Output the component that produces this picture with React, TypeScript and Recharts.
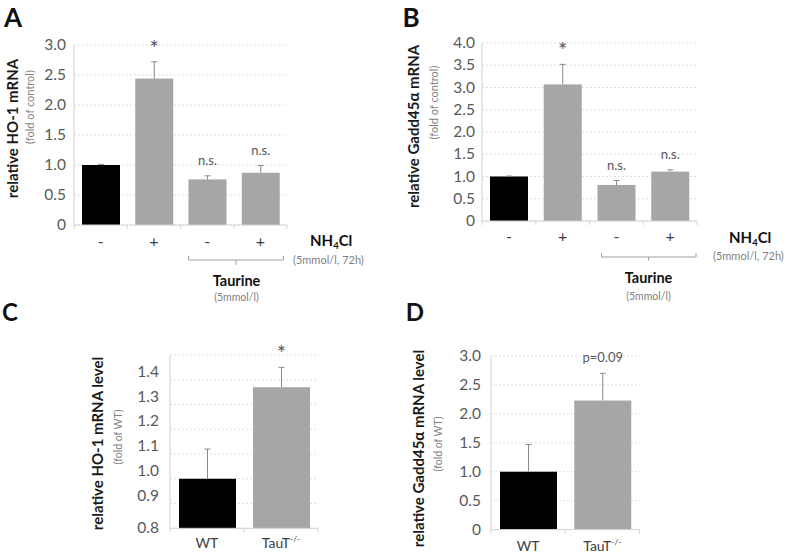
import { BarChart, Bar, XAxis, YAxis, CartesianGrid, Cell } from "recharts";

const FONT = "Lato, 'Open Sans', sans-serif";

// panel A: HO-1 mRNA, fold of control
const treatmentLabels = ["-", "+", "-", "+"];
const ho1Means = [1.0, 2.44, 0.76, 0.87];
const ho1Errors = [0.01, 0.28, 0.06, 0.12];
const ho1Marks = ["", "*", "n.s.", "n.s."];

// panel B: Gadd45a mRNA, fold of control
const gaddMeans = [1.0, 3.07, 0.81, 1.11];
const gaddErrors = [0.01, 0.45, 0.1, 0.04];
const gaddMarks = ["", "*", "n.s.", "n.s."];

// panel C: HO-1 mRNA, TauT knockout
const genotypeLabels = ["WT", "TauT-/-"];
const ho1KoMeans = [1.0, 1.37];
const ho1KoErrors = [0.12, 0.08];
const ho1KoMarks = ["", "*"];

// panel D: Gadd45a mRNA, TauT knockout
const gaddKoMeans = [1.0, 2.23];
const gaddKoErrors = [0.47, 0.47];
const gaddKoMarks = ["", "p=0.09"];

const ticksA = [0, 0.5, 1, 1.5, 2, 2.5, 3];
const ticksB = [0, 0.5, 1, 1.5, 2, 2.5, 3, 3.5, 4];
const ticksC = [0.8, 0.9, 1.0, 1.1, 1.2, 1.3, 1.4, 1.5];
const ticksD = [0, 0.5, 1, 1.5, 2, 2.5, 3];

const toRows = (names: string[], means: number[], errs: number[], marks: string[]) =>
  names.map((name, i) => ({ name, value: means[i], err: errs[i], mark: marks[i] }));

const BLACK = "#000000";
const GREY = "#a6a6a6";
const AXIS = "#d4d4d4";

type Box = { x: number; y: number; w: number; h: number };

type PanelProps = {
  rows: { name: string; value: number; err: number; mark: string }[];
  box: Box;
  domain: [number, number];
  ticks: number[];
  barSize: number;
  labelGap: number;
  xFont: number;
  xDy: number;
  liftLabels?: number;
  hideAbove?: number;
};

const L = 50;
const T = 30;
const R = 5;
const B = 35;

const fmt = (v: number) => (v === 0 ? "0" : v.toFixed(1));

function Panel({ rows, box, domain, ticks, barSize, labelGap, xFont, xDy, liftLabels = 0, hideAbove }: PanelProps) {
  const band = box.w / rows.length;

  const barShape = (p: any) => {
    const { x, y, width, height, fill, payload } = p;
    const ppu = height / (payload.value - domain[0]);
    const top = y - payload.err * ppu;
    const cx = x + width / 2;
    const star = payload.mark === "*";
    return (
      <g>
        <rect x={x} y={y} width={width} height={height} fill={fill} />
        <line x1={cx} y1={y} x2={cx} y2={top} stroke="#8a8a8a" strokeWidth={1} />
        <line x1={cx - 3} y1={top} x2={cx + 3} y2={top} stroke="#8a8a8a" strokeWidth={1} />
        {payload.mark ? (
          <text
            x={cx}
            y={top - (star ? 6 : 11)}
            textAnchor="middle"
            fontFamily={FONT}
            fontSize={star ? 22 : 13}
            fill="#595959"
          >
            {payload.mark}
          </text>
        ) : null}
      </g>
    );
  };

  const xTick = (p: any) => {
    const { x, y, payload, index } = p;
    const name: string = payload.value;
    const sup = name.endsWith("-/-");
    const left = x - band / 2;
    return (
      <g>
        <line x1={left} y1={y} x2={left} y2={y + 4} stroke={AXIS} />
        {index === rows.length - 1 ? (
          <line x1={left + band} y1={y} x2={left + band} y2={y + 4} stroke={AXIS} />
        ) : null}
        <text x={x} y={y + xDy} textAnchor="middle" fontFamily={FONT} fontSize={xFont} fill="#404040">
          {sup ? name.replace("-/-", "") : name}
          {sup ? (
            <tspan fontSize={8.5} dy={-6}>
              -/-
            </tspan>
          ) : null}
        </text>
      </g>
    );
  };

  const yTick = (p: any) => {
    const { x, y, payload } = p;
    const v: number = payload.value;
    if (hideAbove !== undefined && v > hideAbove + 1e-9) return <g />;
    const lift = v > domain[0] + 1e-9 ? liftLabels : 0;
    return (
      <text x={x} y={y - lift} dy={5} textAnchor="end" fontFamily={FONT} fontSize={15.5} fill="#595959">
        {fmt(v)}
      </text>
    );
  };

  return (
    <div style={{ position: "absolute", left: box.x - L, top: box.y - T }}>
      <BarChart
        width={box.w + L + R}
        height={box.h + T + B}
        data={rows}
        margin={{ top: T, right: R, left: 0, bottom: 0 }}
        barCategoryGap={0}
      >
        <CartesianGrid vertical={false} stroke="#dedede" strokeDasharray="2 2" />
        <XAxis
          dataKey="name"
          height={B}
          axisLine={{ stroke: AXIS }}
          tickLine={false}
          tickSize={0}
          tickMargin={0}
          interval={0}
          tick={xTick}
        />
        <YAxis
          width={L}
          domain={domain}
          ticks={ticks}
          interval={0}
          axisLine={{ stroke: AXIS }}
          tickLine={false}
          tickSize={0}
          tickMargin={labelGap}
          tick={yTick}
        />
        <Bar dataKey="value" barSize={barSize} shape={barShape} isAnimationActive={false}>
          {rows.map((r, i) => (
            <Cell key={r.name + i} fill={i === 0 ? BLACK : GREY} />
          ))}
        </Bar>
      </BarChart>
    </div>
  );
}

const vLabel = (cx: number, cy: number, text: string, size: number, weight: number, color: string) => (
  <text
    transform={`translate(${cx},${cy}) rotate(-90)`}
    textAnchor="middle"
    dominantBaseline="central"
    fontFamily={FONT}
    fontSize={size}
    fontWeight={weight}
    fill={color}
  >
    {text}
  </text>
);

const nh4cl = (x: number, y: number) => (
  <text x={x} y={y} fontFamily={FONT} fontSize={15} fontWeight={700} fill="#111">
    NH
    <tspan fontSize={9.5} dy={3}>
      4
    </tspan>
    <tspan dy={-3}>Cl</tspan>
  </text>
);

const small = (x: number, y: number, text: string, size: number, anchor: "start" | "middle" = "middle") => (
  <text x={x} y={y} textAnchor={anchor} fontFamily={FONT} fontSize={size} fill="#7f7f7f">
    {text}
  </text>
);

const bold = (x: number, y: number, text: string, size: number) => (
  <text x={x} y={y} textAnchor="middle" fontFamily={FONT} fontSize={size} fontWeight={700} fill="#111">
    {text}
  </text>
);

export default function App() {
  return (
    <div
      style={{
        position: "absolute",
        left: 0,
        top: 0,
        width: 787,
        height: 552,
        background: "#fff",
        overflow: "hidden",
        fontFamily: FONT,
      }}
    >
      <Panel
        rows={toRows(treatmentLabels, ho1Means, ho1Errors, ho1Marks)}
        box={{ x: 74, y: 45, w: 213, h: 180 }}
        domain={[0, 3]}
        ticks={ticksA}
        barSize={38}
        labelGap={8}
        xFont={16}
        xDy={22}
      />
      <Panel
        rows={toRows(treatmentLabels, gaddMeans, gaddErrors, gaddMarks)}
        box={{ x: 482, y: 42.7, w: 215, h: 178 }}
        domain={[0, 4]}
        ticks={ticksB}
        barSize={38}
        labelGap={7}
        xFont={16}
        xDy={21}
      />
      <Panel
        rows={toRows(genotypeLabels, ho1KoMeans, ho1KoErrors, ho1KoMarks)}
        box={{ x: 170, y: 355, w: 148, h: 173.3 }}
        domain={[0.8, 1.5]}
        ticks={ticksC}
        barSize={57}
        labelGap={11}
        xFont={14}
        xDy={20}
        liftLabels={8}
        hideAbove={1.4}
      />
      <Panel
        rows={toRows(genotypeLabels, gaddKoMeans, gaddKoErrors, gaddKoMarks)}
        box={{ x: 491, y: 355.7, w: 148.5, h: 173.6 }}
        domain={[0, 3]}
        ticks={ticksD}
        barSize={57}
        labelGap={10}
        xFont={14}
        xDy={21}
      />

      <svg
        width={787}
        height={552}
        style={{ position: "absolute", left: 0, top: 0, pointerEvents: "none" }}
      >
        {/* panel letters */}
        {bold(13, 27, "A", 26)}
        {bold(411, 27, "B", 26)}
        {bold(10, 321, "C", 24)}
        {bold(415, 321, "D", 24)}

        {/* y axis titles */}
        {vLabel(12, 128.5, "relative HO-1 mRNA", 15, 700, "#1a1a1a")}
        {vLabel(29, 107, "(fold of control)", 11, 400, "#7f7f7f")}
        {vLabel(413, 126.5, "relative Gadd45\u03b1 mRNA", 15, 700, "#1a1a1a")}
        {vLabel(433, 102.5, "(fold of control)", 11, 400, "#7f7f7f")}
        {vLabel(97, 443.5, "relative HO-1 mRNA  level", 15, 700, "#1a1a1a")}
        {vLabel(118, 437, "(fold of WT)", 10.5, 400, "#7f7f7f")}
        {vLabel(418, 448.5, "relative Gadd45\u03b1 mRNA  level", 15, 700, "#1a1a1a")}
        {vLabel(438, 444, "(fold of WT)", 10.5, 400, "#7f7f7f")}

        {/* treatment annotation, panel A */}
        {nh4cl(310, 246)}
        {small(293, 263.5, "(5mmol/l, 72h)", 11, "start")}
        <path d="M188.5 256 V260 H283.5 V256 M236 260 V265" stroke="#a0a0a0" fill="none" />
        {bold(236.5, 286, "Taurine", 14.5)}
        {small(236.5, 300.5, "(5mmol/l)", 10.5)}

        {/* treatment annotation, panel B */}
        {nh4cl(729, 243)}
        {small(713, 260, "(5mmol/l, 72h)", 11, "start")}
        <path d="M601.5 253 V257 H696 V253 M648.5 257 V260.5" stroke="#a0a0a0" fill="none" />
        {bold(648.5, 283, "Taurine", 14.5)}
        {small(648.5, 300, "(5mmol/l)", 10.5)}
      </svg>
    </div>
  );
}
